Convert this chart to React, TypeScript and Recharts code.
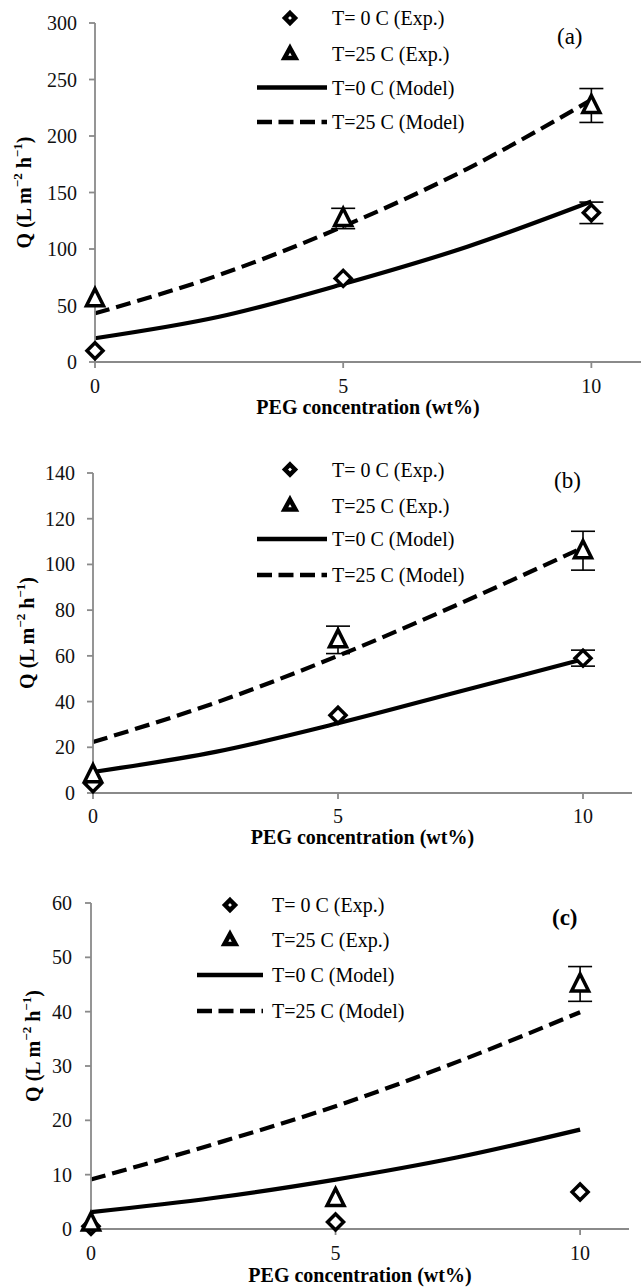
import React from 'react';
import { ComposedChart, Line, Scatter, XAxis, YAxis, ErrorBar } from 'recharts';

const FONT = '"Liberation Serif", "Times New Roman", serif';
const AXIS = '#8a8a8a';

const modelX = [0, 2.5, 5, 7.5, 10];
const expX = [0, 5, 10];
const xTicks = [0, 5, 10];
const legendLabels = ['T= 0 C (Exp.)', 'T=25 C (Exp.)', 'T=0 C (Model)', 'T=25 C (Model)'];

// panel (a)
const aModel0 = [21, 40, 69, 102, 142];
const aModel25 = [43, 77, 120, 171, 232];
const aExp0 = [10, 74, 132];
const aErr0 = [0, 0, 9.5];
const aExp25 = [56, 127, 227];
const aErr25 = [0, 9, 15];
const aTicks = [0, 50, 100, 150, 200, 250, 300];

// panel (b)
const bModel0 = [9.2, 18, 30.5, 44.5, 58.5];
const bModel25 = [22.3, 39.5, 60, 83, 107.4];
const bExp0 = [4, 34, 59];
const bErr0 = [0, 0, 3.5];
const bExp25 = [8, 67, 106];
const bErr25 = [0, 6, 8.5];
const bTicks = [0, 20, 40, 60, 80, 100, 120, 140];

// panel (c)
const cModel0 = [3.1, 5.7, 9.1, 13.2, 18.3];
const cModel25 = [9.1, 15.6, 22.6, 30.8, 39.9];
const cExp0 = [0.5, 1.3, 6.8];
const cErr0 = [0, 0, 0];
const cExp25 = [1.1, 5.6, 45.1];
const cErr25 = [0, 0, 3.2];
const cTicks = [0, 10, 20, 30, 40, 50, 60];

const modelRows = (m0: number[], m25: number[]) =>
  modelX.map((x, i) => ({ x, m0: m0[i], m25: m25[i] }));
const expRows = (v: number[], e: number[]) =>
  expX.map((x, i) => ({ x, y: v[i], err: e[i] }));

const Diamond = (p: any) => {
  const { cx, cy } = p;
  const s = 8;
  return (
    <path
      d={`M${cx},${cy - s}L${cx + s},${cy}L${cx},${cy + s}L${cx - s},${cy}Z`}
      fill="#fff"
      stroke="#000"
      strokeWidth={3.5}
    />
  );
};

const Triangle = (p: any) => {
  const { cx, cy } = p;
  return (
    <path
      d={`M${cx},${cy - 10}L${cx + 8.5},${cy + 7}L${cx - 8.5},${cy + 7}Z`}
      fill="#fff"
      stroke="#000"
      strokeWidth={3.5}
    />
  );
};

const XTick = (p: any) => (
  <text x={p.x} y={p.y} dy="0.71em" textAnchor="middle" fontFamily={FONT} fontSize={20} fill="#111">
    {p.payload.value}
  </text>
);

const YTick = (p: any) => (
  <text x={p.x} y={p.y} dy="0.35em" textAnchor="end" fontFamily={FONT} fontSize={20} fill="#111">
    {p.payload.value}
  </text>
);

type PanelProps = {
  top: number;
  height: number;
  marginTop: number;
  marginRight: number;
  yWidth: number;
  xHeight: number;
  yMax: number;
  yTicks: number[];
  m0: number[];
  m25: number[];
  e0: number[];
  err0: number[];
  e25: number[];
  err25: number[];
  yTickMargin: number;
  xTickMargin: number;
  titleX: number;
  titleDy: number;
  xTitleOffset: number;
};

function Panel(props: PanelProps) {
  return (
    <div style={{ position: 'absolute', left: 0, top: props.top }}>
      <ComposedChart
        width={644}
        height={props.height}
        data={modelRows(props.m0, props.m25)}
        margin={{ top: props.marginTop, right: props.marginRight, left: 0, bottom: 0 }}
      >
        <XAxis
          type="number"
          dataKey="x"
          domain={[0, 11]}
          ticks={xTicks}
          height={props.xHeight}
          stroke={AXIS}
          strokeWidth={1.8}
          tickSize={6}
          tickMargin={props.xTickMargin}
          tick={XTick}
          label={{
            content: (lp: any) => {
              const vb = lp.viewBox;
              return (
                <text
                  x={vb.x + vb.width / 2}
                  y={vb.y + vb.height - props.xTitleOffset}
                  textAnchor="middle"
                  fontFamily={FONT}
                  fontWeight="bold"
                  fontSize={20}
                  fill="#000"
                >
                  PEG concentration (wt%)
                </text>
              );
            },
          }}
        />
        <YAxis
          type="number"
          domain={[0, props.yMax]}
          ticks={props.yTicks}
          width={props.yWidth}
          stroke={AXIS}
          strokeWidth={1.8}
          tickSize={6}
          tickMargin={props.yTickMargin}
          tick={YTick}
          label={{
            content: (lp: any) => {
              const vb = lp.viewBox;
              const cy = vb.y + vb.height / 2 + props.titleDy;
              const cx = props.titleX;
              return (
                <text
                  transform={`rotate(-90 ${cx} ${cy})`}
                  x={cx}
                  y={cy}
                  textAnchor="middle"
                  dominantBaseline="central"
                  fontFamily={FONT}
                  fontWeight="bold"
                  fontSize={20}
                  fill="#000"
                >
                  Q (L m
                  <tspan dy={-7} fontSize={13}>−2</tspan>
                  <tspan dy={7}> h</tspan>
                  <tspan dy={-7} fontSize={13}>−1</tspan>
                  <tspan dy={7}>)</tspan>
                </text>
              );
            },
          }}
        />
        <Line
          type="monotone"
          dataKey="m0"
          stroke="#000"
          strokeWidth={4.2}
          dot={false}
          activeDot={false}
          isAnimationActive={false}
        />
        <Line
          type="monotone"
          dataKey="m25"
          stroke="#000"
          strokeWidth={4.2}
          strokeDasharray="15 7"
          dot={false}
          activeDot={false}
          isAnimationActive={false}
        />
        <Scatter
          data={expRows(props.e0, props.err0)}
          dataKey="y"
          shape={Diamond}
          isAnimationActive={false}
        >
          <ErrorBar dataKey="err" direction="y" width={12} stroke="#000" strokeWidth={1.6} />
        </Scatter>
        <Scatter
          data={expRows(props.e25, props.err25)}
          dataKey="y"
          shape={Triangle}
          isAnimationActive={false}
        >
          <ErrorBar dataKey="err" direction="y" width={12} stroke="#000" strokeWidth={1.6} />
        </Scatter>
      </ComposedChart>
    </div>
  );
}

type LegendProps = {
  rows: number[];
  markerX: number;
  lineX1: number;
  lineX2: number;
  textX: number;
  tag: string;
  tagX: number;
  tagY: number;
  tagBold?: boolean;
};

function LegendBlock(p: LegendProps) {
  const [r0, r1, r2, r3] = p.rows;
  const mx = p.markerX;
  return (
    <g fontFamily={FONT} fontSize={20} fill="#000">
      <path
        d={`M${mx},${r0 - 5}L${mx + 5},${r0}L${mx},${r0 + 5}L${mx - 5},${r0}Z`}
        fill="#fff"
        stroke="#000"
        strokeWidth={4.5}
      />
      <path
        d={`M${mx},${r1 - 6}L${mx + 5.5},${r1 + 4}L${mx - 5.5},${r1 + 4}Z`}
        fill="#fff"
        stroke="#000"
        strokeWidth={4.5}
      />
      <line x1={p.lineX1} x2={p.lineX2} y1={r2} y2={r2} stroke="#000" strokeWidth={4.5} />
      <line
        x1={p.lineX1}
        x2={p.lineX2}
        y1={r3}
        y2={r3}
        stroke="#000"
        strokeWidth={4.5}
        strokeDasharray="15 6.5"
      />
      {p.rows.map((r, i) => (
        <text key={i} x={p.textX} y={r} dominantBaseline="central">
          {legendLabels[i]}
        </text>
      ))}
      <text
        x={p.tagX}
        y={p.tagY}
        dominantBaseline="central"
        fontSize={23}
        fontWeight={p.tagBold ? 'bold' : 'normal'}
      >
        {p.tag}
      </text>
    </g>
  );
}

export default function App() {
  return (
    <div
      style={{
        position: 'absolute',
        left: 0,
        top: 0,
        width: 644,
        height: 1288,
        background: '#fff',
        overflow: 'hidden',
        fontFamily: FONT,
      }}
    >
      <Panel
        top={0}
        height={420}
        marginTop={23}
        marginRight={3}
        yWidth={95}
        xHeight={58}
        yMax={300}
        yTicks={aTicks}
        m0={aModel0}
        m25={aModel25}
        e0={aExp0}
        err0={aErr0}
        e25={aExp25}
        err25={aErr25}
        yTickMargin={12}
        xTickMargin={11}
        titleX={24}
        titleDy={0}
        xTitleOffset={6}
      />
      <Panel
        top={430}
        height={420}
        marginTop={43}
        marginRight={12}
        yWidth={93}
        xHeight={57}
        yMax={140}
        yTicks={bTicks}
        m0={bModel0}
        m25={bModel25}
        e0={bExp0}
        err0={bErr0}
        e25={bExp25}
        err25={bErr25}
        yTickMargin={12}
        xTickMargin={10}
        titleX={27}
        titleDy={0}
        xTitleOffset={6}
      />
      <Panel
        top={850}
        height={438}
        marginTop={53}
        marginRight={15}
        yWidth={91}
        xHeight={59}
        yMax={60}
        yTicks={cTicks}
        m0={cModel0}
        m25={cModel25}
        e0={cExp0}
        err0={cErr0}
        e25={cExp25}
        err25={cErr25}
        yTickMargin={13}
        xTickMargin={11}
        titleX={33}
        titleDy={-20}
        xTitleOffset={6}
      />
      <svg
        width={644}
        height={1288}
        style={{ position: 'absolute', left: 0, top: 0, pointerEvents: 'none' }}
      >
        <LegendBlock
          rows={[18, 54, 87.5, 122]}
          markerX={290}
          lineX1={257}
          lineX2={327}
          textX={332}
          tag="(a)"
          tagX={557}
          tagY={36}
        />
        <LegendBlock
          rows={[469.5, 505.5, 539, 575]}
          markerX={290}
          lineX1={257}
          lineX2={327}
          textX={332}
          tag="(b)"
          tagX={554}
          tagY={480}
        />
        <LegendBlock
          rows={[905, 940, 975, 1011]}
          markerX={230}
          lineX1={197}
          lineX2={263}
          textX={272}
          tag="(c)"
          tagX={552}
          tagY={917}
          tagBold
        />
      </svg>
    </div>
  );
}
